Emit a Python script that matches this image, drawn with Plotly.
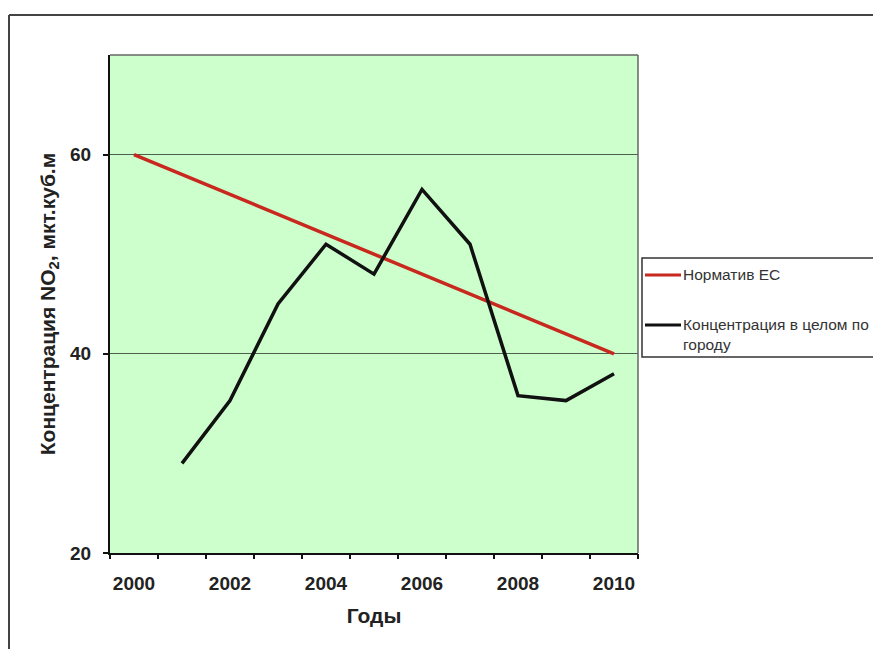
import plotly.graph_objects as go

years = [2000, 2001, 2002, 2003, 2004, 2005, 2006, 2007, 2008, 2009, 2010]
norm_eu = [60, 58, 56, 54, 52, 50, 48, 46, 44, 42, 40]
city_conc = [None, 29, 35.3, 45, 51, 48, 56.5, 51, 35.8, 35.3, 38]
x_labels = [2000, 2002, 2004, 2006, 2008, 2010]
y_ticks = [20, 40, 60]
series_names = ["Норматив ЕС", "Концентрация в целом по<br>городу"]
series_colors = ["#c8281e", "#111111"]

OFF = 8  # page body margin in the browser
W, H = 881 - OFF, 649 - OFF
L, R, T, B = 110 - OFF, 638 - OFF, 55 - OFF, 553 - OFF  # plot area pixels (figure coords)

def px(x):
    return (x - OFF - L) / (R - L)

def py(y):
    return (B - (y - OFF)) / (B - T)

FONT = "Liberation Sans, Arial, sans-serif"

fig = go.Figure()
fig.add_trace(go.Scatter(x=years, y=norm_eu, mode="lines", name=series_names[0],
                         line=dict(color=series_colors[0], width=3.5), showlegend=False))
fig.add_trace(go.Scatter(x=years, y=city_conc, mode="lines", name=series_names[1],
                         line=dict(color=series_colors[1], width=3.5), showlegend=False))
# boundary tick marks (category-style axis)
fig.add_trace(go.Scatter(x=[years[0] - 0.5, years[-1] + 0.5], y=[None, None], xaxis="x2",
                         showlegend=False, hoverinfo="skip"))

fig.update_layout(
    width=W, height=H,
    margin=dict(l=L, r=W - R, t=T, b=H - B, autoexpand=False),
    paper_bgcolor="white",
    plot_bgcolor="#ccffcc",
    font=dict(family=FONT, color="#222"),
    showlegend=False,
    xaxis=dict(range=[years[0] - 0.5, years[-1] + 0.5], tickvals=x_labels,
               ticks="", showgrid=False, zeroline=False,
               showline=True, linecolor="#111", linewidth=2,
               ticklabelstandoff=12,
               tickfont=dict(size=19, color="#222", family=FONT, weight="bold"),
               title=dict(text="Годы", font=dict(size=21, weight="bold"), standoff=16)),
    xaxis2=dict(overlaying="x", range=[years[0] - 0.5, years[-1] + 0.5],
                tickvals=[y - 0.5 for y in years] + [years[-1] + 0.5],
                showticklabels=False, ticks="outside", ticklen=5, tickwidth=2,
                tickcolor="#111", showgrid=False, zeroline=False, side="bottom",
                anchor="y"),
    yaxis=dict(range=[20, 70], tickvals=y_ticks, ticks="outside", ticklen=5,
               tickwidth=2, tickcolor="#111",
               showgrid=True, gridcolor="#4f5f4f", gridwidth=1.2, zeroline=False,
               showline=True, linecolor="#111", linewidth=2,
               ticklabelstandoff=8,
               tickfont=dict(size=19, color="#222", family=FONT, weight="bold"),
               title=dict(text="Концентрация NO<sub>2</sub>, мкт.куб.м",
                          font=dict(size=21, weight="bold"), standoff=9)),
)

shapes = [
    # plot area border (top/right)
    dict(type="line", xref="paper", yref="paper", x0=0, x1=1, y0=1, y1=1,
         line=dict(color="#666", width=1.5)),
    dict(type="line", xref="paper", yref="paper", x0=1, x1=1, y0=0, y1=1,
         line=dict(color="#666", width=1.5)),
    # outer chart border (top/left)
    dict(type="line", xref="paper", yref="paper", x0=px(9), x1=px(900), y0=py(15), y1=py(15),
         line=dict(color="#444", width=2)),
    dict(type="line", xref="paper", yref="paper", x0=px(9), x1=px(9), y0=py(15), y1=py(660),
         line=dict(color="#444", width=2)),
    # legend box
    dict(type="rect", xref="paper", yref="paper", x0=px(642), x1=px(900), y0=py(258), y1=py(357),
         line=dict(color="#333", width=1.5), fillcolor="white"),
]
annotations = []
legend_rows = [275, 325]
for name, color, ly in zip(series_names, series_colors, legend_rows):
    shapes.append(dict(type="line", xref="paper", yref="paper", x0=px(645), x1=px(681),
                       y0=py(ly), y1=py(ly), line=dict(color=color, width=3)))
    annotations.append(dict(xref="paper", yref="paper", x=px(681), y=py(ly - 11),
                            xanchor="left", yanchor="top", align="left", showarrow=False,
                            text=name, font=dict(size=15.5, color="#333", family=FONT)))
fig.update_layout(shapes=shapes, annotations=annotations)

fig.write_html("out.html")
